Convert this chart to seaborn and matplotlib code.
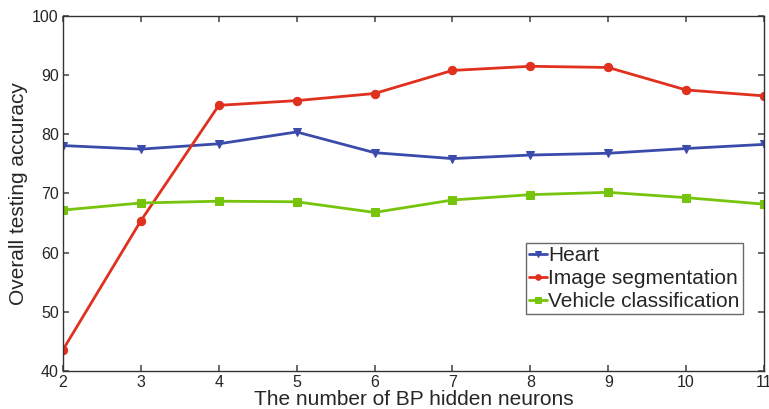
import matplotlib
matplotlib.use("Agg")
import matplotlib.pyplot as plt
import seaborn as sns
import pandas as pd

neurons = [2, 3, 4, 5, 6, 7, 8, 9, 10, 11]
heart = [78.1, 77.5, 78.4, 80.4, 76.9, 75.9, 76.5, 76.8, 77.6, 78.3]
image_seg = [43.6, 65.4, 84.9, 85.7, 86.9, 90.8, 91.5, 91.3, 87.5, 86.5]
vehicle = [67.2, 68.4, 68.7, 68.6, 66.8, 68.9, 69.8, 70.2, 69.3, 68.2]
series_names = ["Heart", "Image segmentation", "Vehicle classification"]
yticks = [40, 50, 60, 70, 80, 90, 100]

sns.set_theme(style="ticks")
plt.rcParams['font.family'] = ['Liberation Sans', 'DejaVu Sans']

fig = plt.figure(figsize=(7.69, 4.09), dpi=100)
ax = fig.add_axes([63/769, 1 - 371/409, (764-63)/769, (371-16)/409])

colors = ["#3A4BAA", "#E0301E", "#76C50C"]
markers = ["v", "o", "s"]
for name, vals, c, m in zip(series_names, [heart, image_seg, vehicle], colors, markers):
    df = pd.DataFrame({"x": neurons, "y": vals})
    sns.lineplot(data=df, x="x", y="y", ax=ax, color=c, marker=m, markersize=6,
                 linewidth=2.0, markeredgecolor=c, label=name)

ax.set_xlim(2, 11)
ax.set_ylim(40, 100)
ax.set_xticks(neurons)
ax.set_yticks(yticks)
ax.tick_params(direction="in", top=True, right=True, labelsize=11.5, length=4,
               color="#555555", pad=3)
for s in ax.spines.values():
    s.set_color("#333333")
    s.set_linewidth(1.0)
ax.set_xlabel("The number of BP hidden neurons", fontsize=15, labelpad=0)
ax.set_ylabel("Overall testing accuracy", fontsize=15, labelpad=3)

leg = ax.legend(loc="lower right", bbox_to_anchor=(743/769, 1 - 314/409),
                bbox_transform=fig.transFigure, fontsize=15, frameon=True,
                fancybox=False, edgecolor="#444444", borderpad=0.15,
                handlelength=0.9, handletextpad=0.05, labelspacing=0.18,
                borderaxespad=0)
leg.get_frame().set_linewidth(1.0)
for h in leg.legend_handles:
    h.set_markersize(4)

fig.savefig("out.png", dpi=100)
